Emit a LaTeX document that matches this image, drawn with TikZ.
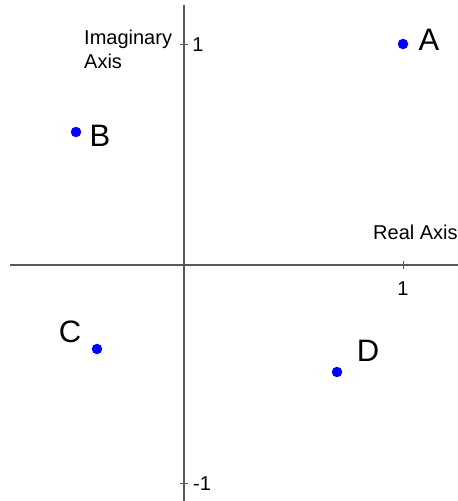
\documentclass[tikz,border=0pt]{standalone}
\usepackage{fontspec}
\setmainfont{Liberation Sans}
\begin{document}
\begin{tikzpicture}[x=1pt,y=-1pt,
  axis/.style={draw=black!65,line width=1.2pt},
  tick/.style={draw=black!65,line width=1pt},
  lbl/.style={font=\fontsize{20}{24}\selectfont,inner sep=0pt},
  ptlbl/.style={font=\fontsize{31}{33}\selectfont,inner sep=0pt},
  dot/.style={circle,fill=blue,inner sep=0pt,minimum size=10.5pt}]
\useasboundingbox (0,0) rectangle (458,501);
\clip (0,0) rectangle (458,501);
% axes
\coordinate (xl) at (10,265);
\coordinate (xr) at (458,265);
\coordinate (yt) at (184,5);
\coordinate (yb) at (184,501);
\draw[axis] (xl) -- (xr);
\draw[axis] (yt) -- (yb);
% ticks
\coordinate (t1a) at (180,44); \coordinate (t1b) at (188,44);
\coordinate (t2a) at (180,483); \coordinate (t2b) at (188,483);
\coordinate (t3a) at (403,261); \coordinate (t3b) at (403,269);
\draw[tick] (t1a) -- (t1b);
\draw[tick] (t2a) -- (t2b);
\draw[tick] (t3a) -- (t3b);
\node[lbl] (ly1) at (198,45) {1};
\node[lbl] (lym1) at (202,484) {-1};
\node[lbl] (lx1) at (403,289) {1};
\node[lbl,anchor=west] (real) at (373,232) {Real Axis};
\node[lbl,anchor=north west,align=left] (imag) at (84,30) {Imaginary\\Axis};
% points
\node[dot] (A) at (403,44) {};
\node[dot] (B) at (76,132) {};
\node[dot] (C) at (97,349) {};
\node[dot] (D) at (337,372) {};
\node[ptlbl] (lA) at (429,40) {A};
\node[ptlbl] (lB) at (100,136) {B};
\node[ptlbl] (lC) at (70,332) {C};
\node[ptlbl] (lD) at (368,351) {D};
\end{tikzpicture}
\end{document}
